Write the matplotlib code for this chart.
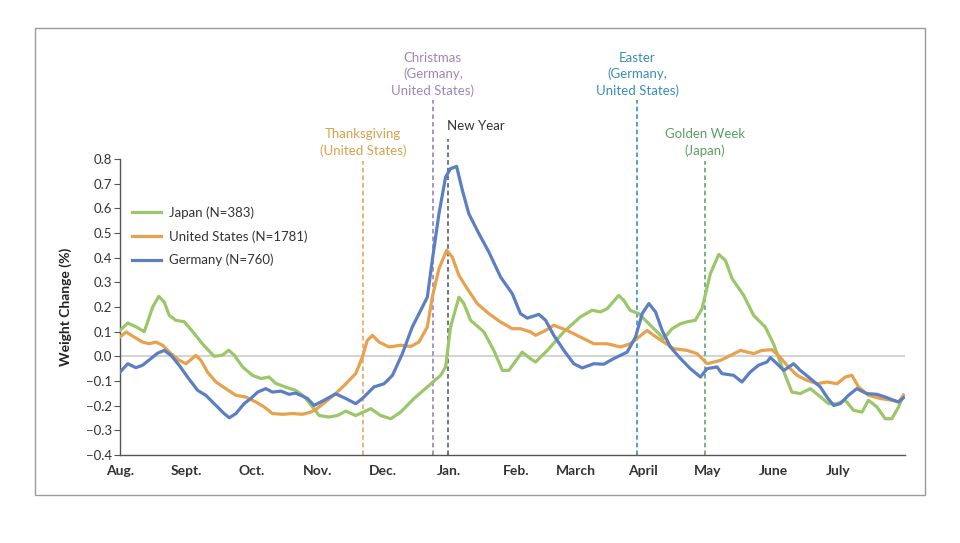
import numpy as np
import matplotlib.pyplot as plt
from matplotlib.patches import Rectangle

plt.rcParams['font.family'] = ['Lato', 'DejaVu Sans']
plt.rcParams['axes.unicode_minus'] = True

# days counted from Aug. 1
month_labels = ['Aug.', 'Sept.', 'Oct.', 'Nov.', 'Dec.', 'Jan.', 'Feb.', 'March',
                'April', 'May', 'June', 'July']
month_days = [0, 31, 61, 92, 122, 153, 184, 212, 243, 273, 304, 334]

# Japan (N=383)
jp_day = [0, 3.6, 7.4, 11.3, 15.2, 18.0, 20.6, 22.9, 26.0, 29.9, 33.8, 38.4, 43.8, 47.7,
          50.5, 53.1, 57.0, 61.6, 65.5, 69.3, 72.5, 77.1, 81.7, 85.6, 89.5, 92.6, 97.2,
          101.1, 105.0, 109.6, 116.6, 121.2, 125.9, 130.5, 136.7, 142.9, 149.1, 151.4,
          153.7, 157.6, 159.9, 163.0, 169.2, 173.8, 177.8, 180.8, 187.0, 190.9, 193.2,
          198.7, 206.4, 214.1, 219.5, 223.4, 226.5, 231.9, 234.2, 237.3, 241.2, 246.6,
          252.8, 256.7, 260.6, 263.7, 267.5, 270.6, 274.5, 278.4, 281.5, 284.6, 290.0,
          294.6, 300.0, 303.9, 307.8, 312.4, 316.3, 321.0, 324.8, 329.5, 333.4, 337.2,
          341.1, 345.0, 348.0, 351.9, 355.8, 358.9, 362.0, 364.3]
jp_val = [0.105, 0.135, 0.12, 0.10, 0.20, 0.243, 0.22, 0.166, 0.146, 0.14, 0.10, 0.05, 0.0,
          0.005, 0.025, 0.005, -0.043, -0.077, -0.09, -0.084, -0.11, -0.125, -0.138, -0.162,
          -0.205, -0.24, -0.246, -0.24, -0.222, -0.24, -0.212, -0.24, -0.253, -0.226, -0.171,
          -0.124, -0.077, -0.043, 0.119, 0.24, 0.214, 0.146, 0.099, 0.024, -0.057, -0.057,
          0.017, -0.01, -0.023, 0.024, 0.10, 0.16, 0.187, 0.18, 0.193, 0.247, 0.227, 0.186,
          0.173, 0.126, 0.072, 0.112, 0.132, 0.14, 0.146, 0.193, 0.335, 0.413, 0.389, 0.315,
          0.247, 0.166, 0.119, 0.05, -0.043, -0.145, -0.151, -0.131, -0.158, -0.192, -0.192,
          -0.178, -0.219, -0.226, -0.178, -0.205, -0.253, -0.253, -0.205, -0.158]

# United States (N=1781)
us_day = [0, 2.8, 6.6, 10.5, 13.6, 16.7, 19.8, 23.7, 27.5, 30.7, 35.3, 37.6, 40.7, 44.6,
          49.2, 53.9, 58.5, 63.2, 67.0, 70.9, 75.6, 80.2, 84.9, 88.7, 91.1, 94.8, 100.3,
          104.6, 109.6, 112.7, 115.0, 117.4, 120.4, 125.1, 130.5, 135.2, 139.0, 142.9,
          145.2, 148.3, 151.9, 154.5, 157.6, 161.5, 166.1, 171.5, 177.0, 182.4, 186.2,
          190.9, 193.2, 197.9, 201.7, 207.9, 214.1, 220.3, 226.5, 232.7, 237.3, 241.2,
          245.1, 248.2, 252.8, 257.5, 263.7, 268.3, 273.0, 279.3, 283.9, 288.5, 294.6,
          298.5, 303.1, 306.2, 310.1, 314.8, 319.4, 324.1, 328.7, 333.4, 337.2, 340.3,
          343.4, 348.0, 353.5, 358.9, 362.0, 364.3]
us_val = [0.078, 0.099, 0.078, 0.058, 0.051, 0.058, 0.045, 0.011, -0.016, -0.03, 0.004,
          -0.016, -0.064, -0.104, -0.131, -0.158, -0.165, -0.185, -0.205, -0.232, -0.235,
          -0.232, -0.235, -0.226, -0.215, -0.19, -0.151, -0.115, -0.07, -0.003, 0.065,
          0.085, 0.058, 0.038, 0.045, 0.04, 0.058, 0.119, 0.24, 0.355, 0.43, 0.402, 0.328,
          0.274, 0.214, 0.173, 0.139, 0.112, 0.112, 0.099, 0.085, 0.105, 0.126, 0.105,
          0.078, 0.051, 0.051, 0.038, 0.051, 0.078, 0.105, 0.085, 0.058, 0.031, 0.024,
          0.011, -0.03, -0.016, 0.004, 0.024, 0.011, 0.024, 0.027, 0.004, -0.036, -0.077,
          -0.097, -0.111, -0.104, -0.111, -0.084, -0.077, -0.124, -0.158, -0.171, -0.178,
          -0.185, -0.158]

# Germany (N=760)
de_day = [0, 3.6, 7.4, 10.5, 14.4, 17.5, 20.6, 23.7, 27.5, 31.4, 36.1, 39.9, 44.6, 48.4,
          50.8, 53.9, 57.7, 60.8, 64.0, 67.8, 70.9, 74.8, 78.6, 81.7, 87.2, 90.2, 94.9,
          100.3, 105.0, 109.6, 112.7, 118.1, 122.8, 126.7, 131.3, 135.9, 139.8, 142.9,
          145.2, 148.3, 151.4, 153.7, 156.5, 159.2, 162.2, 166.9, 171.5, 177.0, 182.4,
          186.2, 189.4, 194.8, 197.9, 201.7, 206.4, 211.0, 214.9, 220.3, 224.9, 229.6,
          235.8, 239.7, 242.8, 245.9, 249.0, 252.1, 255.9, 260.6, 265.2, 269.9, 272.9,
          277.6, 279.9, 285.3, 289.2, 293.0, 296.9, 300.8, 302.4, 305.5, 308.6, 313.2,
          316.3, 321.0, 325.6, 328.7, 331.8, 334.9, 338.7, 342.6, 347.2, 351.9, 355.8,
          359.7, 362.0, 364.3]
de_val = [-0.064, -0.03, -0.046, -0.036, -0.009, 0.013, 0.024, 0.004, -0.036, -0.084,
          -0.138, -0.158, -0.199, -0.232, -0.249, -0.232, -0.192, -0.171, -0.145, -0.131,
          -0.145, -0.141, -0.154, -0.149, -0.171, -0.199, -0.178, -0.152, -0.171, -0.192,
          -0.171, -0.124, -0.111, -0.077, 0.011, 0.119, 0.186, 0.24, 0.389, 0.578, 0.727,
          0.761, 0.77, 0.673, 0.578, 0.497, 0.423, 0.321, 0.254, 0.173, 0.155, 0.17, 0.146,
          0.085, 0.024, -0.03, -0.047, -0.03, -0.032, -0.009, 0.017, 0.078, 0.173, 0.214,
          0.18, 0.105, 0.038, -0.009, -0.05, -0.084, -0.05, -0.043, -0.07, -0.077, -0.104,
          -0.064, -0.036, -0.023, -0.005, -0.03, -0.057, -0.03, -0.057, -0.09, -0.124,
          -0.165, -0.199, -0.192, -0.158, -0.131, -0.151, -0.154, -0.165, -0.178, -0.185,
          -0.168]

# holidays: day, label, line colour, text colour, top of line, label y, ha
holidays = [
    (113, 'Thanksgiving\n(United States)', '#e0a050', '#d9a04a', 0.79, 0.867, 'center'),
    (145.5, 'Christmas\n(Germany,\nUnited States)', '#8f78b0', '#9d86bb', 1.04, 1.143, 'center'),
    (152.5, 'New Year', '#4a4f5e', '#333333', 0.88, 0.932, 'left'),
    (240.5, 'Easter\n(Germany,\nUnited States)', '#2f84b8', '#3b8bbd', 1.04, 1.143, 'center'),
    (272, 'Golden Week\n(Japan)', '#4f9e6a', '#5a9e62', 0.79, 0.867, 'center'),
]

fig = plt.figure(figsize=(9.6, 5.43), dpi=100)
fig.patches.append(Rectangle((35 / 960, 1 - 495 / 543), 890 / 960, 467 / 543,
                             transform=fig.transFigure, fill=False,
                             edgecolor='#9a9a9a', linewidth=1.0))
ax = fig.add_axes([120 / 960, 1 - 455 / 543, 785 / 960, 296 / 543])

ax.axhline(0, color='#d0d0d0', lw=1.3, zorder=1)

for d, lab, lc, tc, top, ty, ha in holidays:
    ax.plot([d, d], [-0.4, top], color=lc, lw=1.1, linestyle=(0, (3, 2)),
            clip_on=False, zorder=2)
    tx = d - 0.3 if ha == 'left' else d
    ax.text(tx, ty, lab, color=tc, fontsize=9.5, ha=ha, va='center',
            linespacing=1.35)

ax.plot(jp_day, jp_val, color='#9cc66a', lw=2.3, label='Japan (N=383)', zorder=3)
ax.plot(us_day, us_val, color='#e6a24e', lw=2.3, label='United States (N=1781)', zorder=3)
ax.plot(de_day, de_val, color='#5b7fc2', lw=2.3, label='Germany (N=760)', zorder=4)

ax.set_xlim(0, 365)
ax.set_ylim(-0.4, 0.8)
ax.set_xticks(month_days)
ax.set_xticklabels(month_labels, fontsize=10, fontweight='bold', color='#333333')
ax.tick_params(axis='x', length=0, pad=7)
yt = np.round(np.arange(-0.4, 0.81, 0.1), 1)
ax.set_yticks(yt)
ax.set_yticklabels(['{:.1f}'.format(v + 0.0).replace('-', '\u2212') for v in yt],
                   fontsize=9.5, color='#333333')
ax.tick_params(axis='y', length=4, width=0.8, color='#555555', pad=2)
ax.set_ylabel('Weight Change (%)', fontsize=10, fontweight='bold', color='#222222',
              labelpad=10)

for s in ['top', 'right']:
    ax.spines[s].set_visible(False)
for s in ['left', 'bottom']:
    ax.spines[s].set_color('#555555')
    ax.spines[s].set_linewidth(1.0)

leg = ax.legend(loc='upper left', bbox_to_anchor=(0.0, 0.88), frameon=False,
                fontsize=9.5, handlelength=2.2, handletextpad=0.6, labelspacing=0.85)
for t in leg.get_texts():
    t.set_color('#333333')

fig.savefig('out.png', dpi=100, facecolor='white')
